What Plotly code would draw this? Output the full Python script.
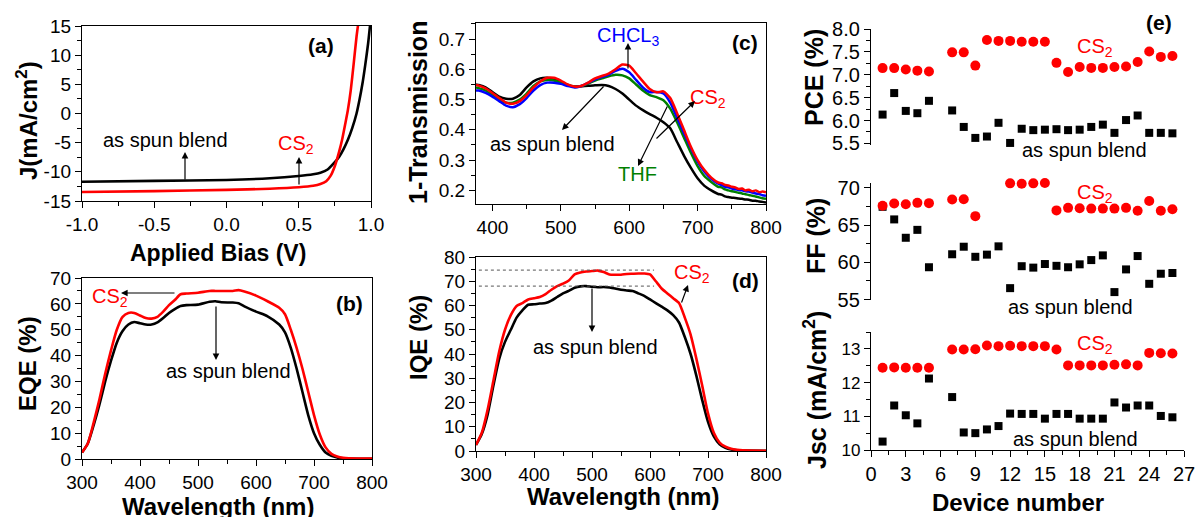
import plotly.graph_objects as go

W, H = 1197, 517
FONT = "Arial, Liberation Sans, sans-serif"

# ---------------- data ----------------
# (a) J-V
jv_v_blend = [-1.0, -0.5, 0.0, 0.3, 0.5, 0.6, 0.65, 0.7, 0.74, 0.78, 0.81, 0.84, 0.87, 0.9, 0.92, 0.94, 0.96, 0.98, 0.995]
jv_j_blend = [-11.7, -11.55, -11.4, -11.1, -10.7, -10.4, -10.15, -9.6, -8.6, -7.4, -6.1, -4.5, -2.5, 0.0, 2.3, 5.0, 8.3, 12.0, 15.5]
jv_v_cs2 = [-1.0, -0.5, 0.0, 0.3, 0.5, 0.6, 0.65, 0.69, 0.72, 0.75, 0.78, 0.80, 0.82, 0.84, 0.86, 0.88, 0.90, 0.915]
jv_j_cs2 = [-13.45, -13.3, -13.1, -12.9, -12.65, -12.4, -12.1, -11.6, -10.7, -9.0, -6.5, -4.5, -2.0, 0.6, 4.0, 8.5, 13.2, 16.0]

# (b) EQE
eqe_wl = [300, 310, 320, 330, 340, 350, 360, 370, 380, 390, 400, 410, 420, 430, 440, 450, 460, 470, 480, 500,
          520, 530, 540, 560, 570, 580, 600, 620, 640, 650, 660, 670, 680, 690, 700, 710, 720, 730, 740, 750, 760, 800]
eqe_cs2 = [2.5, 6, 14, 23, 33, 42, 50, 55, 56.5, 56.5, 55.5, 54.5, 54.3, 55, 57, 59.5, 61.5, 63.7, 64, 64.3,
           65, 65, 65, 65, 65.3, 64.8, 63.2, 61, 58.5, 56, 50, 43, 35, 26, 17, 9.5, 4.5, 2, 1, 0.5, 0.3, 0.2]
eqe_blend = [2.5, 6, 13, 21, 30, 38, 45, 49.5, 52, 53, 52.5, 52, 52, 52.8, 54.5, 56.5, 58, 59.2, 59.5, 59.7,
             60.8, 61, 60.6, 60.5, 60.2, 59, 57, 55.2, 52, 49, 43, 35, 26, 17, 10, 5.5, 2.5, 1.2, 0.6, 0.3, 0.2, 0.1]

# (c) 1-Transmission
tr_wl = [376, 380, 390, 400, 410, 420, 430, 440, 450, 460, 470, 480, 490, 500, 510, 520, 530, 540, 550, 560,
         570, 580, 590, 600, 610, 620, 630, 640, 650, 660, 670, 680, 690, 700, 710, 720, 730, 735, 740, 745,
         750, 755, 760, 765, 770, 775, 780, 785, 790, 795, 800]
tr_blend = [0.55, 0.548, 0.54, 0.525, 0.51, 0.503, 0.503, 0.515, 0.54, 0.56, 0.57, 0.572, 0.567, 0.557, 0.548, 0.543, 0.544, 0.546, 0.547, 0.548,
            0.545, 0.535, 0.52, 0.5, 0.48, 0.465, 0.452, 0.44, 0.425, 0.405, 0.36, 0.315, 0.275, 0.24, 0.215, 0.2, 0.188, 0.186, 0.18, 0.178,
            0.176, 0.175, 0.173, 0.172, 0.17, 0.169, 0.166, 0.166, 0.163, 0.162, 0.16]
tr_thf = [0.54, 0.538, 0.53, 0.515, 0.5, 0.49, 0.49, 0.5, 0.52, 0.545, 0.56, 0.565, 0.563, 0.556, 0.548, 0.542, 0.545, 0.553, 0.563, 0.57,
          0.577, 0.582, 0.58, 0.57, 0.55, 0.53, 0.515, 0.508, 0.498, 0.47, 0.425, 0.375, 0.325, 0.28, 0.247, 0.228, 0.212, 0.21, 0.203, 0.2,
          0.197, 0.195, 0.192, 0.19, 0.187, 0.185, 0.182, 0.18, 0.177, 0.174, 0.172]
tr_chcl3 = [0.53, 0.53, 0.522, 0.51, 0.495, 0.48, 0.475, 0.485, 0.505, 0.53, 0.548, 0.556, 0.556, 0.552, 0.545, 0.54, 0.545, 0.555, 0.567, 0.575,
            0.582, 0.595, 0.602, 0.59, 0.565, 0.54, 0.525, 0.525, 0.52, 0.49, 0.44, 0.39, 0.34, 0.295, 0.262, 0.238, 0.222, 0.218, 0.212, 0.21,
            0.206, 0.204, 0.201, 0.2, 0.197, 0.196, 0.193, 0.19, 0.188, 0.184, 0.182]
tr_cs2 = [0.548, 0.546, 0.537, 0.522, 0.505, 0.49, 0.486, 0.495, 0.515, 0.54, 0.56, 0.572, 0.572, 0.563, 0.55, 0.543, 0.545, 0.556, 0.57, 0.578,
          0.586, 0.6, 0.616, 0.612, 0.587, 0.56, 0.535, 0.524, 0.527, 0.505, 0.455, 0.40, 0.345, 0.30, 0.267, 0.242, 0.226, 0.224, 0.218, 0.216,
          0.212, 0.21, 0.205, 0.206, 0.2, 0.202, 0.197, 0.2, 0.194, 0.196, 0.194]

# (d) IQE
iqe_wl = [300, 310, 320, 330, 340, 350, 360, 370, 380, 390, 400, 410, 420, 430, 440, 450, 460, 470, 480, 490,
          500, 510, 520, 530, 540, 550, 560, 570, 580, 590, 600, 610, 620, 630, 640, 650, 660, 670, 680, 690,
          700, 710, 720, 730, 740, 750, 760, 800]
iqe_cs2 = [2.5, 7.5, 17, 29, 41, 50, 56, 59.8, 61, 62.5, 63, 63.5, 64.7, 66.5, 68, 69, 70.3, 72.8, 73.6, 74,
           74.2, 74.4, 73.8, 72.8, 72.7, 72.7, 73, 73.1, 73.2, 73.2, 72.8, 70, 67, 65, 63, 61, 55, 48, 38, 27,
           15.5, 7.5, 3.5, 1.8, 0.9, 0.5, 0.3, 0.1]
iqe_blend = [2.5, 7, 15, 27, 38, 45, 50, 55, 58, 60.3, 60.5, 60.8, 61, 62, 63.5, 65, 66, 67.3, 67.9, 68,
             67.7, 67.5, 67.6, 67.4, 67, 66.5, 66.2, 66, 65, 64, 62.5, 61, 59.5, 58, 56, 53, 47, 40, 31, 21,
             12, 6, 2.8, 1.3, 0.6, 0.3, 0.2, 0.1]
iqe_levels = [74.6, 68.0]
iqe_level_span = [305, 607]

# (e) device statistics
devices = [1, 2, 3, 4, 5, 7, 8, 9, 10, 11, 12, 13, 14, 15, 16, 17, 18, 19, 20, 21, 22, 23, 24, 25, 26]
pce_cs2 = [7.145, 7.145, 7.115, 7.09, 7.07, 7.49, 7.49, 7.20, 7.76, 7.74, 7.74, 7.72, 7.72, 7.72, 7.26, 7.06, 7.17, 7.15, 7.15, 7.17, 7.18, 7.28, 7.51, 7.39, 7.41]
pce_blend = [6.13, 6.60, 6.21, 6.16, 6.43, 6.22, 5.86, 5.62, 5.65, 5.95, 5.51, 5.82, 5.79, 5.80, 5.81, 5.79, 5.80, 5.86, 5.91, 5.73, 6.01, 6.11, 5.73, 5.73, 5.72]
ff_cs2 = [67.59, 67.88, 67.78, 67.97, 67.93, 68.41, 68.46, 66.19, 70.68, 70.68, 70.58, 70.53, 70.58, 70.63, 66.96, 67.30, 67.25, 67.20, 67.20, 67.20, 67.30, 66.91, 68.22, 66.91, 67.11]
ff_blend = [67.44, 65.75, 63.29, 64.35, 59.34, 61.08, 62.09, 60.74, 61.03, 62.14, 56.54, 59.48, 59.29, 59.77, 59.53, 59.34, 59.73, 60.30, 60.93, 56.01, 59.05, 60.84, 57.12, 58.47, 58.57]
jsc_cs2 = [12.44, 12.45, 12.44, 12.44, 12.44, 12.98, 12.98, 12.99, 13.10, 13.08, 13.09, 13.08, 13.08, 13.08, 12.98, 12.51, 12.51, 12.51, 12.51, 12.53, 12.54, 12.51, 12.88, 12.87, 12.86]
jsc_blend = [10.25, 11.32, 11.03, 10.79, 12.12, 11.57, 10.52, 10.50, 10.61, 10.71, 11.08, 11.07, 11.07, 10.93, 11.07, 11.07, 10.93, 10.93, 10.93, 11.41, 11.26, 11.32, 11.32, 11.01, 10.97]

jv_xticks = [-1.0, -0.5, 0.0, 0.5, 1.0]

RED, BLACK, BLUE, GREEN = "#ff0000", "#000000", "#0000ff", "#008000"

# ---------------- helpers ----------------
def px(x):
    return x / W

def py(y):
    return 1 - y / H

def dom_x(l, r):
    return [px(l), px(r)]

def dom_y(t, b):
    return [py(b), py(t)]

def axis(dom, rng, anchor, dtick=None, minor_dtick=None, mirror=True, tsize=19, fmt=None, tick0=None, **kw):
    d = dict(domain=dom, range=rng, anchor=anchor, showline=True, linecolor="black", linewidth=1.3,
             mirror=mirror, ticks="outside", ticklen=6, tickwidth=1.3, tickcolor="black",
             showgrid=False, zeroline=False, automargin=False,
             tickfont=dict(size=tsize, color="black", family=FONT))
    if dtick is not None:
        d["dtick"] = dtick
    if tick0 is not None:
        d["tick0"] = tick0
    if fmt:
        d["tickformat"] = fmt
    if minor_dtick is not None:
        d["minor"] = dict(ticks="outside", ticklen=3.5, tickwidth=1.2, tickcolor="black", dtick=minor_dtick, showgrid=False)
    d.update(kw)
    return d

fig = go.Figure()

def line(x, y, color, xa, ya, width=2.6):
    fig.add_trace(go.Scatter(x=x, y=y, mode="lines", line=dict(color=color, width=width, shape="spline", smoothing=0.6),
                             xaxis=xa, yaxis=ya, showlegend=False, hoverinfo="skip"))

line(jv_v_blend, jv_j_blend, BLACK, "x", "y")
line(jv_v_cs2, jv_j_cs2, RED, "x", "y")
line(eqe_wl, eqe_blend, BLACK, "x2", "y2")
line(eqe_wl, eqe_cs2, RED, "x2", "y2")
line(tr_wl, tr_blend, BLACK, "x3", "y3", 2.5)
line(tr_wl, tr_thf, GREEN, "x3", "y3", 2.5)
line(tr_wl, tr_chcl3, BLUE, "x3", "y3", 2.5)
line(tr_wl, tr_cs2, RED, "x3", "y3", 2.5)
line(iqe_wl, iqe_blend, BLACK, "x4", "y4")
line(iqe_wl, iqe_cs2, RED, "x4", "y4")

def pts(y, color, symbol, size, xa, ya):
    fig.add_trace(go.Scatter(x=devices, y=y, mode="markers", marker=dict(color=color, symbol=symbol, size=size, line=dict(width=0)),
                             xaxis=xa, yaxis=ya, showlegend=False, hoverinfo="skip", cliponaxis=False))

pts(pce_blend, BLACK, "square", 8, "x5", "y5")
pts(pce_cs2, RED, "circle", 10, "x5", "y5")
pts(ff_blend, BLACK, "square", 8, "x6", "y6")
pts(ff_cs2, RED, "circle", 10, "x6", "y6")
pts(jsc_blend, BLACK, "square", 8, "x7", "y7")
pts(jsc_cs2, RED, "circle", 10, "x7", "y7")

# dotted reference lines in (d)
for lv in iqe_levels:
    fig.add_shape(type="line", xref="x4", yref="y4", x0=iqe_level_span[0], x1=iqe_level_span[1], y0=lv, y1=lv,
                  line=dict(color="#555555", width=1, dash="dot"))

layout = dict(
    width=W, height=H, margin=dict(l=0, r=0, t=0, b=0, pad=0, autoexpand=False), autosize=False,
    paper_bgcolor="white", plot_bgcolor="white", font=dict(family=FONT, color="black"),
    xaxis=axis(dom_x(82, 371), [-1, 1], "y", minor_dtick=0.25, tickvals=jv_xticks,
               ticktext=[f"{v:.1f}" for v in jv_xticks]),
    yaxis=axis(dom_y(26, 201), [-15, 15], "x", dtick=5, minor_dtick=2.5,
               tickvals=[15, 10, 5, 0, -5, -10, -15], ticktext=["15", "10", "5", "0", "-5", "-10", "-15"]),
    xaxis2=axis(dom_x(82, 372), [300, 800], "y2", dtick=100, minor_dtick=50),
    yaxis2=axis(dom_y(278, 459), [0, 70], "x2", dtick=10, minor_dtick=5),
    xaxis3=axis(dom_x(476, 766), [376, 800], "y3", dtick=100, tick0=400, minor_dtick=50),
    yaxis3=axis(dom_y(23, 204), [0.155, 0.753], "x3", dtick=0.1, tick0=0.2, minor_dtick=0.05, fmt=".1f"),
    xaxis4=axis(dom_x(476, 766), [300, 800], "y4", dtick=100, minor_dtick=50),
    yaxis4=axis(dom_y(257, 451), [0, 80], "x4", dtick=10, minor_dtick=5),
    xaxis5=dict(domain=dom_x(871, 1184), range=[0, 27], anchor="y5", visible=False),
    yaxis5=axis(dom_y(29, 145), [5.465, 8.0], "x5", dtick=0.5, tick0=5.5, minor_dtick=0.25, fmt=".1f", mirror=False, tsize=20),
    xaxis6=dict(domain=dom_x(871, 1184), range=[0, 27], anchor="y6", visible=False),
    yaxis6=axis(dom_y(183, 300), [54.95, 70.63], "x6", dtick=5, tick0=55, minor_dtick=2.5, mirror=False, tsize=20),
    xaxis7=axis(dom_x(871, 1184), [0, 27], "y7", dtick=3, minor_dtick=1.5, mirror=False, tsize=20),
    yaxis7=axis(dom_y(332, 450), [10, 13.5], "x7", dtick=1, minor_dtick=0.5, mirror=False, tsize=17),
)
fig.update_layout(**layout)

ann = []

def text(x, y, s, color="black", size=19, bold=False, angle=0):
    if bold:
        s = f"<b>{s}</b>"
    ann.append(dict(xref="paper", yref="paper", x=px(x), y=py(y), text=s, showarrow=False,
                    xanchor="center", yanchor="middle", textangle=angle,
                    font=dict(size=size, color=color, family=FONT)))

def arrow(tx, ty, hx, hy):
    ann.append(dict(xref="paper", yref="paper", x=px(hx), y=py(hy), ax=tx - hx, ay=ty - hy, text="",
                    showarrow=True, arrowhead=2, arrowsize=1.1, arrowwidth=1.2, arrowcolor="black"))

# axis titles
TS = 24
text(27, 121, "J(mA/cm<sup>2</sup>)", size=TS, bold=True, angle=-90)
text(218, 253, "Applied Bias (V)", size=23, bold=True)
text(27, 364, "EQE (%)", size=TS, bold=True, angle=-90)
text(218, 506, "Wavelength (nm)", size=TS, bold=True)
text(418, 113, "1-Transmission", size=25, bold=True, angle=-90)
text(418, 338, "IQE (%)", size=TS, bold=True, angle=-90)
text(623, 496, "Wavelength (nm)", size=TS, bold=True)
text(814, 78, "PCE (%)", size=25, bold=True, angle=-90)
text(816, 236, "FF (%)", size=25, bold=True, angle=-90)
text(815, 390, "Jsc (mA/cm<sup>2</sup>)", size=25, bold=True, angle=-90)
text(1018, 502, "Device number", size=TS, bold=True)

# panel labels
text(321, 45, "(a)", size=21, bold=True)
text(349, 303, "(b)", size=21, bold=True)
text(745, 43, "(c)", size=21, bold=True)
text(745, 280, "(d)", size=21, bold=True)
text(1159, 23, "(e)", size=21, bold=True)

# (a) annotations
text(165, 140, "as spun blend", size=20)
arrow(185, 181, 185, 152)
text(296, 145, "CS<sub>2</sub>", color=RED, size=20)
arrow(299, 186, 299, 157)

# (b)
text(110, 297, "CS<sub>2</sub>", color=RED, size=20)
arrow(176, 293, 121, 293)
text(228, 371, "as spun blend", size=20)
arrow(216, 305, 216, 360)

# (c)
text(628, 36, "CHCL<sub>3</sub>", color=BLUE, size=20)
arrow(628, 70, 628, 43)
text(708, 98, "CS<sub>2</sub>", color=RED, size=20)
arrow(655, 140, 695, 101)
text(637, 174, "THF", color=GREEN, size=20)
arrow(668, 105, 638, 166)
text(552, 144, "as spun blend", size=20)
arrow(605, 85, 562, 130)

# (d)
text(595, 347, "as spun blend", size=20)
arrow(592, 287, 592, 332)
text(692, 273, "CS<sub>2</sub>", color=RED, size=20)
arrow(681, 304, 688, 285)

# (e)
text(1095, 48, "CS<sub>2</sub>", color=RED, size=20)
text(1084, 150, "as spun blend", size=20)
text(1095, 193, "CS<sub>2</sub>", color=RED, size=20)
text(1070, 307, "as spun blend", size=20)
text(1095, 344, "CS<sub>2</sub>", color=RED, size=20)
text(1075, 439, "as spun blend", size=20)

fig.update_layout(annotations=ann)
fig.write_html("out.html",
               config={"displayModeBar": False},
               post_script="document.body.style.margin='0px';document.body.style.padding='0px';"
                           "document.documentElement.style.overflow='hidden';")
